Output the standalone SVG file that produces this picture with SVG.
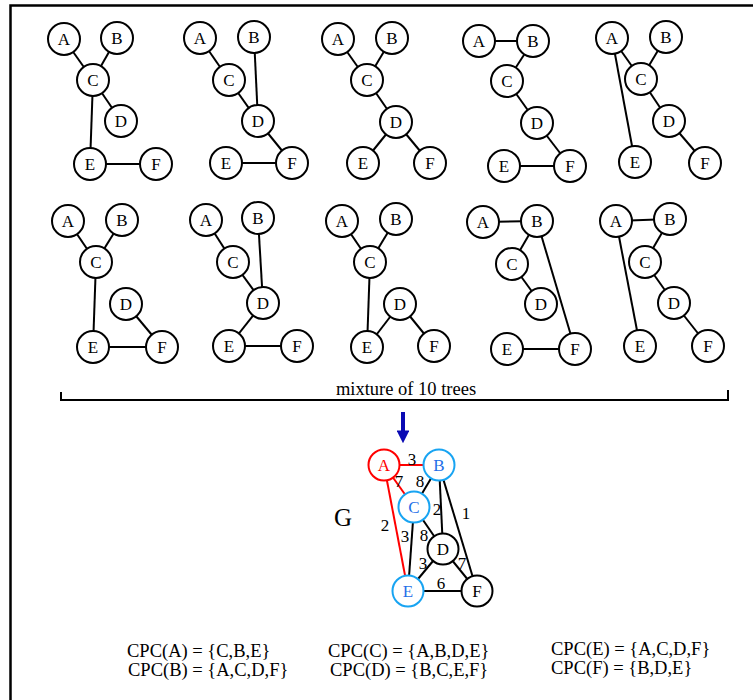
<svg xmlns="http://www.w3.org/2000/svg" width="753" height="700" viewBox="0 0 753 700">
  <style>
    .frame { stroke: #000; stroke-width: 2.5; fill: none; }
    .edge { stroke: #000; stroke-width: 2; }
    .node circle { fill: #fff; stroke: #000; stroke-width: 2; }
    .node text, .lbl, .cap, .cpc { font-family: "Liberation Serif", "Times New Roman", serif; fill: #000; }
    .node text { font-size: 17px; text-anchor: middle; }
    .lbl { font-size: 17px; text-anchor: middle; }
    .cap { font-size: 18.5px; text-anchor: middle; }
    .cpc { font-size: 18.5px; }
    .red { stroke: #f00; }
    .g-red circle { stroke: #f00; }
    .g-red text { fill: #f00; }
    .g-blue circle { stroke: #18a4f2; }
    .g-blue text { fill: #1f6fe8; }
  </style>
  <defs>
    <marker id="ah" viewBox="0 0 10 10" refX="2" refY="5" markerWidth="3.2" markerHeight="3.2" orient="auto" markerUnits="strokeWidth">
      <path d="M0,0 L10,5 L0,10 z" fill="#0a0ab4"/>
    </marker>
  </defs>

  <rect width="753" height="700" fill="#fff"/>

  <!-- outer frame (top and left edges) -->
  <path class="frame" d="M10.5,700 V5.5 H753"/>

  <!-- connectors of the ten trees -->
  <g id="tree-edges" class="edge">
    <!-- tree 1 -->
    <line x1="64" y1="39" x2="93" y2="80"/><line x1="117" y1="38" x2="93" y2="80"/><line x1="93" y1="80" x2="121" y2="121"/><line x1="93" y1="80" x2="90" y2="164"/><line x1="90" y1="164" x2="156" y2="164"/>
    <!-- tree 2 -->
    <line x1="200" y1="38" x2="229" y2="80"/><line x1="229" y1="80" x2="258" y2="121"/><line x1="254" y1="37" x2="258" y2="121"/><line x1="258" y1="121" x2="292" y2="163"/><line x1="226" y1="163" x2="292" y2="163"/>
    <!-- tree 3 -->
    <line x1="338" y1="39" x2="367" y2="80"/><line x1="392" y1="38" x2="367" y2="80"/><line x1="367" y1="80" x2="396" y2="122"/><line x1="396" y1="122" x2="363" y2="163"/><line x1="396" y1="122" x2="430" y2="163"/>
    <!-- tree 4 -->
    <line x1="479" y1="41" x2="533" y2="41"/><line x1="533" y1="41" x2="507" y2="81"/><line x1="507" y1="81" x2="537" y2="123"/><line x1="537" y1="123" x2="570" y2="166"/><line x1="504" y1="166" x2="570" y2="166"/>
    <!-- tree 5 -->
    <line x1="612" y1="38" x2="641" y2="79"/><line x1="666" y1="37" x2="641" y2="79"/><line x1="641" y1="79" x2="669" y2="121"/><line x1="669" y1="121" x2="705" y2="163"/><line x1="612" y1="38" x2="635" y2="162"/>
    <!-- tree 6 -->
    <line x1="68" y1="221" x2="96" y2="262"/><line x1="122" y1="220" x2="96" y2="262"/><line x1="96" y1="262" x2="93" y2="347"/><line x1="93" y1="347" x2="162" y2="347"/><line x1="126" y1="304" x2="162" y2="347"/>
    <!-- tree 7 -->
    <line x1="206" y1="220" x2="233" y2="262"/><line x1="258" y1="218" x2="263" y2="303"/><line x1="233" y1="262" x2="263" y2="303"/><line x1="263" y1="303" x2="229" y2="346"/><line x1="229" y1="346" x2="297" y2="346"/>
    <!-- tree 8 -->
    <line x1="342" y1="221" x2="370" y2="262"/><line x1="396" y1="219" x2="370" y2="262"/><line x1="370" y1="262" x2="367" y2="347"/><line x1="400" y1="304" x2="367" y2="347"/><line x1="400" y1="304" x2="434" y2="346"/>
    <!-- tree 9 -->
    <line x1="483" y1="222" x2="537" y2="221"/><line x1="537" y1="221" x2="512" y2="264"/><line x1="512" y1="264" x2="541" y2="304"/><line x1="537" y1="221" x2="575" y2="349"/><line x1="507" y1="349" x2="575" y2="349"/>
    <!-- tree 10 -->
    <line x1="616" y1="221" x2="670" y2="219"/><line x1="670" y1="219" x2="645" y2="262"/><line x1="645" y1="262" x2="674" y2="303"/><line x1="674" y1="303" x2="708" y2="346"/><line x1="616" y1="221" x2="640" y2="346"/>
  </g>

  <!-- tree 1 -->
  <g id="t1">
    <g id="t1-A" class="node" transform="translate(64,39)"><circle r="16"/><text y="6">A</text></g>
    <g id="t1-B" class="node" transform="translate(117,38)"><circle r="16"/><text y="6">B</text></g>
    <g id="t1-C" class="node" transform="translate(93,80)"><circle r="16"/><text y="6">C</text></g>
    <g id="t1-D" class="node" transform="translate(121,121)"><circle r="16"/><text y="6">D</text></g>
    <g id="t1-E" class="node" transform="translate(90,164)"><circle r="16"/><text y="6">E</text></g>
    <g id="t1-F" class="node" transform="translate(156,164)"><circle r="16"/><text y="6">F</text></g>
  </g>
  <!-- tree 2 -->
  <g id="t2">
    <g id="t2-A" class="node" transform="translate(200,38)"><circle r="16"/><text y="6">A</text></g>
    <g id="t2-B" class="node" transform="translate(254,37)"><circle r="16"/><text y="6">B</text></g>
    <g id="t2-C" class="node" transform="translate(229,80)"><circle r="16"/><text y="6">C</text></g>
    <g id="t2-D" class="node" transform="translate(258,121)"><circle r="16"/><text y="6">D</text></g>
    <g id="t2-E" class="node" transform="translate(226,163)"><circle r="16"/><text y="6">E</text></g>
    <g id="t2-F" class="node" transform="translate(292,163)"><circle r="16"/><text y="6">F</text></g>
  </g>
  <!-- tree 3 -->
  <g id="t3">
    <g id="t3-A" class="node" transform="translate(338,39)"><circle r="16"/><text y="6">A</text></g>
    <g id="t3-B" class="node" transform="translate(392,38)"><circle r="16"/><text y="6">B</text></g>
    <g id="t3-C" class="node" transform="translate(367,80)"><circle r="16"/><text y="6">C</text></g>
    <g id="t3-D" class="node" transform="translate(396,122)"><circle r="16"/><text y="6">D</text></g>
    <g id="t3-E" class="node" transform="translate(363,163)"><circle r="16"/><text y="6">E</text></g>
    <g id="t3-F" class="node" transform="translate(430,163)"><circle r="16"/><text y="6">F</text></g>
  </g>
  <!-- tree 4 -->
  <g id="t4">
    <g id="t4-A" class="node" transform="translate(479,41)"><circle r="16"/><text y="6">A</text></g>
    <g id="t4-B" class="node" transform="translate(533,41)"><circle r="16"/><text y="6">B</text></g>
    <g id="t4-C" class="node" transform="translate(507,81)"><circle r="16"/><text y="6">C</text></g>
    <g id="t4-D" class="node" transform="translate(537,123)"><circle r="16"/><text y="6">D</text></g>
    <g id="t4-E" class="node" transform="translate(504,166)"><circle r="16"/><text y="6">E</text></g>
    <g id="t4-F" class="node" transform="translate(570,166)"><circle r="16"/><text y="6">F</text></g>
  </g>
  <!-- tree 5 -->
  <g id="t5">
    <g id="t5-A" class="node" transform="translate(612,38)"><circle r="16"/><text y="6">A</text></g>
    <g id="t5-B" class="node" transform="translate(666,37)"><circle r="16"/><text y="6">B</text></g>
    <g id="t5-C" class="node" transform="translate(641,79)"><circle r="16"/><text y="6">C</text></g>
    <g id="t5-D" class="node" transform="translate(669,121)"><circle r="16"/><text y="6">D</text></g>
    <g id="t5-E" class="node" transform="translate(635,162)"><circle r="16"/><text y="6">E</text></g>
    <g id="t5-F" class="node" transform="translate(705,163)"><circle r="16"/><text y="6">F</text></g>
  </g>
  <!-- tree 6 -->
  <g id="t6">
    <g id="t6-A" class="node" transform="translate(68,221)"><circle r="16"/><text y="6">A</text></g>
    <g id="t6-B" class="node" transform="translate(122,220)"><circle r="16"/><text y="6">B</text></g>
    <g id="t6-C" class="node" transform="translate(96,262)"><circle r="16"/><text y="6">C</text></g>
    <g id="t6-D" class="node" transform="translate(126,304)"><circle r="16"/><text y="6">D</text></g>
    <g id="t6-E" class="node" transform="translate(93,347)"><circle r="16"/><text y="6">E</text></g>
    <g id="t6-F" class="node" transform="translate(162,347)"><circle r="16"/><text y="6">F</text></g>
  </g>
  <!-- tree 7 -->
  <g id="t7">
    <g id="t7-A" class="node" transform="translate(206,220)"><circle r="16"/><text y="6">A</text></g>
    <g id="t7-B" class="node" transform="translate(258,218)"><circle r="16"/><text y="6">B</text></g>
    <g id="t7-C" class="node" transform="translate(233,262)"><circle r="16"/><text y="6">C</text></g>
    <g id="t7-D" class="node" transform="translate(263,303)"><circle r="16"/><text y="6">D</text></g>
    <g id="t7-E" class="node" transform="translate(229,346)"><circle r="16"/><text y="6">E</text></g>
    <g id="t7-F" class="node" transform="translate(297,346)"><circle r="16"/><text y="6">F</text></g>
  </g>
  <!-- tree 8 -->
  <g id="t8">
    <g id="t8-A" class="node" transform="translate(342,221)"><circle r="16"/><text y="6">A</text></g>
    <g id="t8-B" class="node" transform="translate(396,219)"><circle r="16"/><text y="6">B</text></g>
    <g id="t8-C" class="node" transform="translate(370,262)"><circle r="16"/><text y="6">C</text></g>
    <g id="t8-D" class="node" transform="translate(400,304)"><circle r="16"/><text y="6">D</text></g>
    <g id="t8-E" class="node" transform="translate(367,347)"><circle r="16"/><text y="6">E</text></g>
    <g id="t8-F" class="node" transform="translate(434,346)"><circle r="16"/><text y="6">F</text></g>
  </g>
  <!-- tree 9 -->
  <g id="t9">
    <g id="t9-A" class="node" transform="translate(483,222)"><circle r="16"/><text y="6">A</text></g>
    <g id="t9-B" class="node" transform="translate(537,221)"><circle r="16"/><text y="6">B</text></g>
    <g id="t9-C" class="node" transform="translate(512,264)"><circle r="16"/><text y="6">C</text></g>
    <g id="t9-D" class="node" transform="translate(541,304)"><circle r="16"/><text y="6">D</text></g>
    <g id="t9-E" class="node" transform="translate(507,349)"><circle r="16"/><text y="6">E</text></g>
    <g id="t9-F" class="node" transform="translate(575,349)"><circle r="16"/><text y="6">F</text></g>
  </g>
  <!-- tree 10 -->
  <g id="t10">
    <g id="t10-A" class="node" transform="translate(616,221)"><circle r="16"/><text y="6">A</text></g>
    <g id="t10-B" class="node" transform="translate(670,219)"><circle r="16"/><text y="6">B</text></g>
    <g id="t10-C" class="node" transform="translate(645,262)"><circle r="16"/><text y="6">C</text></g>
    <g id="t10-D" class="node" transform="translate(674,303)"><circle r="16"/><text y="6">D</text></g>
    <g id="t10-E" class="node" transform="translate(640,346)"><circle r="16"/><text y="6">E</text></g>
    <g id="t10-F" class="node" transform="translate(708,346)"><circle r="16"/><text y="6">F</text></g>
  </g>

  <!-- bracket and caption -->
  <path d="M61,392 V400 H728 V390" fill="none" stroke="#000" stroke-width="2"/>
  <text class="cap" x="406" y="395">mixture of 10 trees</text>

  <!-- arrow into G -->
  <line x1="403" y1="412" x2="403" y2="433" stroke="#0a0ab4" stroke-width="4" marker-end="url(#ah)"/>

  <!-- connectors of G -->
  <g id="g-edges" class="edge">
    <line class="red" x1="384" y1="465" x2="439" y2="465"/>
    <line class="red" x1="384" y1="465" x2="414" y2="507"/>
    <line class="red" x1="384" y1="465" x2="408" y2="591"/>
    <line x1="439" y1="465" x2="414" y2="507"/>
    <line x1="439" y1="465" x2="443" y2="549"/>
    <line x1="439" y1="465" x2="477" y2="591"/>
    <line x1="414" y1="507" x2="443" y2="549"/>
    <line x1="414" y1="507" x2="408" y2="591"/>
    <line x1="443" y1="549" x2="408" y2="591"/>
    <line x1="443" y1="549" x2="477" y2="591"/>
    <line x1="408" y1="591" x2="477" y2="591"/>
  </g>

  <!-- edge weights of G -->
  <g id="g-weights">
    <text class="lbl" x="412" y="465">3</text>
    <text class="lbl" x="399" y="487">7</text>
    <text class="lbl" x="420" y="487">8</text>
    <text class="lbl" x="385" y="531">2</text>
    <text class="lbl" x="437" y="515">2</text>
    <text class="lbl" x="466" y="519">1</text>
    <text class="lbl" x="405" y="542">3</text>
    <text class="lbl" x="424" y="541">8</text>
    <text class="lbl" x="423" y="569">3</text>
    <text class="lbl" x="462" y="569">7</text>
    <text class="lbl" x="441" y="589">6</text>
  </g>

  <!-- graph G -->
  <g id="G">
    <g id="G-A" class="node g-red" transform="translate(384,465)"><circle r="15.5"/><text y="6">A</text></g>
    <g id="G-B" class="node g-blue" transform="translate(439,465)"><circle r="15.5"/><text y="6">B</text></g>
    <g id="G-C" class="node g-blue" transform="translate(414,507)"><circle r="15.5"/><text y="6">C</text></g>
    <g id="G-D" class="node" transform="translate(443,549)"><circle r="15.5"/><text y="6">D</text></g>
    <g id="G-E" class="node g-blue" transform="translate(408,591)"><circle r="15.5"/><text y="6">E</text></g>
    <g id="G-F" class="node" transform="translate(477,591)"><circle r="15.5"/><text y="6">F</text></g>
  </g>
  <text x="343" y="526" font-family="'Liberation Serif', 'Times New Roman', serif" font-size="25" text-anchor="middle">G</text>

  <!-- CPC sets -->
  <g id="cpc">
    <text class="cpc" x="127" y="657">CPC(A) = {C,B,E}</text>
    <text class="cpc" x="128" y="676">CPC(B) = {A,C,D,F}</text>
    <text class="cpc" x="328" y="657">CPC(C) = {A,B,D,E}</text>
    <text class="cpc" x="330" y="676">CPC(D) = {B,C,E,F}</text>
    <text class="cpc" x="551" y="655">CPC(E) = {A,C,D,F}</text>
    <text class="cpc" x="551" y="674">CPC(F) = {B,D,E}</text>
  </g>
</svg>
